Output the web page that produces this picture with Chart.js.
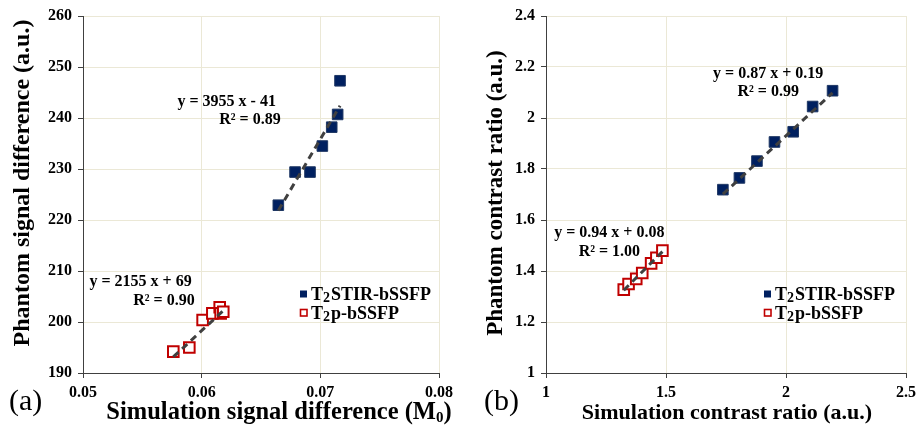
<!DOCTYPE html>
<html><head><meta charset="utf-8">
<script src="https://cdn.jsdelivr.net/npm/chart.js@4/dist/chart.umd.min.js"></script>
<style>
html,body{margin:0;padding:0;background:#fff;}
#wrap{position:relative;width:921px;height:430px;overflow:hidden;background:#fff;}
.c{position:absolute;top:0;}
.lab{position:absolute;font-family:'Liberation Serif',serif;font-size:30px;color:#000;line-height:30px;}
</style></head><body>
<div id="wrap">
<div class="c" style="left:0;"><canvas id="ca" width="460" height="430"></canvas></div>
<div class="c" style="left:460px;"><canvas id="cb" width="461" height="430"></canvas></div>
<div class="lab" style="left:9px;top:385px">(a)</div>
<div class="lab" style="left:484px;top:385px">(b)</div>
</div>
<script>
// ---- data ----
const seriesNames = ['STIR-bSSFP', 'p-bSSFP'];

// panel (a): signal difference
const aStirX = [0.06646, 0.06787, 0.06913, 0.07017, 0.07096, 0.07146, 0.07166];
const aStirY = [222.9, 229.4, 229.4, 234.5, 238.2, 240.7, 247.3];
const aT2pX = [0.05761, 0.05896, 0.06008, 0.06090, 0.06152, 0.06160, 0.06182];
const aT2pY = [194.2, 195.0, 200.4, 201.7, 202.9, 201.7, 202.0];
const aStirFit = [3955, -41];
const aT2pFit = [2155, 69];
const aEqText = ['y = 3955 x - 41', 'R² = 0.89', 'y = 2155 x + 69', 'R² = 0.90'];
const aXTicks = [0.05, 0.06, 0.07, 0.08];
const aYTicks = [190, 200, 210, 220, 230, 240, 250, 260];

// panel (b): contrast ratio
const bStirX = [1.737, 1.806, 1.879, 1.952, 2.030, 2.111, 2.194];
const bStirY = [1.719, 1.765, 1.831, 1.906, 1.946, 2.045, 2.107];
const bT2pX = [1.324, 1.344, 1.376, 1.401, 1.438, 1.460, 1.485];
const bT2pY = [1.327, 1.349, 1.369, 1.392, 1.430, 1.452, 1.480];
const bStirFit = [0.87, 0.19];
const bT2pFit = [0.94, 0.08];
const bEqText = ['y = 0.87 x + 0.19', 'R² = 0.99', 'y = 0.94 x + 0.08', 'R² = 1.00'];
const bXTicks = [1, 1.5, 2, 2.5];
const bYTicks = [1, 1.2, 1.4, 1.6, 1.8, 2, 2.2, 2.4];

// ---- styles ----
const NAVY = '#002060', RED = '#C00000', TREND = '#404040';
const GRID = '#EBE8D6', AXIS = '#404040';
const SERIF = "'Liberation Serif', 'Times New Roman', serif";

function pts(xs, ys) { return xs.map((x, i) => ({x, y: ys[i]})); }
function trend(xs, fit) {
  const lo = Math.min(...xs), hi = Math.max(...xs);
  return [{x: lo, y: fit[0] * lo + fit[1]}, {x: hi, y: fit[0] * hi + fit[1]}];
}
function fmt(v) { return String(parseFloat(v.toFixed(3))); }

function drawParts(ctx, parts, cx, cy) {
  // parts: [{t, size, dy}] drawn on one baseline, centred on cx
  let w = 0;
  for (const p of parts) { ctx.font = 'bold ' + p.size + 'px ' + SERIF; p.w = ctx.measureText(p.t).width; w += p.w; }
  let x = cx - w / 2;
  for (const p of parts) {
    ctx.font = 'bold ' + p.size + 'px ' + SERIF;
    ctx.fillText(p.t, x, cy + (p.dy || 0));
    x += p.w;
  }
}

const annot = {
  id: 'annot',
  afterDraw(chart, args, opts) {
    const ctx = chart.ctx, xs = chart.scales.x, ys = chart.scales.y, ca = chart.chartArea;
    ctx.save();
    ctx.fillStyle = '#000';
    ctx.font = 'bold 16px ' + SERIF;
    ctx.textBaseline = 'middle';
    for (const it of opts.eqs) {
      ctx.textAlign = it.align;
      ctx.fillText(it.text, xs.getPixelForValue(it.x), ys.getPixelForValue(it.y));
    }
    // legend inside plot area
    const lx = ca.right - opts.legendDx;
    const rows = [
      {y: ca.bottom - 79, filled: true, color: NAVY, name: seriesNames[0]},
      {y: ca.bottom - 60.5, filled: false, color: RED, name: seriesNames[1]}
    ];
    ctx.textAlign = 'left';
    ctx.textBaseline = 'alphabetic';
    for (const r of rows) {
      if (r.filled) {
        ctx.fillStyle = r.color;
        ctx.fillRect(lx, r.y - 3.5, 7, 7);
      } else {
        ctx.strokeStyle = r.color;
        ctx.lineWidth = 1.6;
        ctx.strokeRect(lx + 0.5, r.y - 3, 6.5, 6.5);
      }
      ctx.fillStyle = '#000';
      let tx = lx + 11;
      const base = r.y + 6;
      ctx.font = 'bold 18px ' + SERIF;
      ctx.fillText('T', tx, base); tx += ctx.measureText('T').width;
      ctx.font = 'bold 14px ' + SERIF;
      ctx.fillText('2', tx, base + 2); tx += ctx.measureText('2').width + 1;
      ctx.font = 'bold 18px ' + SERIF;
      ctx.fillText(r.name, tx, base);
    }
    // axis titles
    ctx.fillStyle = '#000';
    ctx.textAlign = 'left';
    ctx.textBaseline = 'middle';
    const xt = opts.xTitle;
    drawParts(ctx, xt.parts, xt.cx, xt.cy);
    const yt = opts.yTitle;
    ctx.translate(yt.cx, yt.cy);
    ctx.rotate(-Math.PI / 2);
    drawParts(ctx, yt.parts, 0, 0);
    ctx.restore();
  }
};

function makeChart(id, cfg) {
  const scaleCommon = (min, max, ticksArr) => ({
    type: 'linear', min, max,
    afterBuildTicks: s => { s.ticks = ticksArr.map(v => ({value: v})); },
    grid: {color: GRID, lineWidth: 1, tickColor: AXIS, tickLength: 5, drawTicks: true},
    border: {color: AXIS, width: 1},
    ticks: {color: '#000', font: {family: SERIF, size: 16, weight: 'bold'}, padding: 5, callback: v => fmt(v)}
  });
  const x = scaleCommon(cfg.xMin, cfg.xMax, cfg.xTicks);
  x.afterFit = s => { s.height = 57; };
  x.ticks.maxRotation = 0;
  x.ticks.callback = cfg.xFmt;
  const y = scaleCommon(cfg.yMin, cfg.yMax, cfg.yTicks);
  y.afterFit = s => { s.width = cfg.yWidth; };
  y.ticks.padding = 6;

  return new Chart(document.getElementById(id), {
    type: 'scatter',
    data: {
      datasets: [
        {data: trend(cfg.stirX, cfg.stirFit), showLine: true, borderColor: TREND, borderWidth: 3, borderDash: [7, 5], pointRadius: 0, order: 0},
        {data: trend(cfg.t2pX, cfg.t2pFit), showLine: true, borderColor: TREND, borderWidth: 3, borderDash: [7, 5], pointRadius: 0, order: 0},
        {data: pts(cfg.stirX, cfg.stirY), pointStyle: 'rect', pointRadius: 7.5, backgroundColor: NAVY, borderColor: '#1F3864', borderWidth: 1, order: 1},
        {data: pts(cfg.t2pX, cfg.t2pY), pointStyle: 'rect', pointRadius: 7.5, backgroundColor: '#FFFFFF', borderColor: RED, borderWidth: 2, order: 1}
      ]
    },
    options: {
      responsive: false, animation: false,
      layout: {padding: cfg.pad},
      scales: {x, y},
      plugins: {legend: {display: false}, tooltip: {enabled: false},
        annot: {eqs: cfg.eqs, legendDx: cfg.legendDx, xTitle: cfg.xTitle, yTitle: cfg.yTitle}}
    },
    plugins: [annot]
  });
}

makeChart('ca', {
  stirX: aStirX, stirY: aStirY, t2pX: aT2pX, t2pY: aT2pY, stirFit: aStirFit, t2pFit: aT2pFit,
  xMin: 0.05, xMax: 0.08, yMin: 190, yMax: 260, xTicks: aXTicks, yTicks: aYTicks,
  xFmt: v => v.toFixed(2),
  xTitle: {cx: 279, cy: 413, parts: [{t: 'Simulation signal difference (M', size: 24.5}, {t: '0', size: 15, dy: 5}, {t: ')', size: 24.5}]},
  yTitle: {cx: 23, cy: 183, parts: [{t: 'Phantom signal difference (a.u.)', size: 24}]},
  yWidth: 83, pad: {left: 0, right: 21, top: 16, bottom: 0}, legendDx: 139,
  eqs: [
    {text: aEqText[0], x: 0.06626, y: 243.2, align: 'right'},
    {text: aEqText[1], x: 0.06666, y: 239.6, align: 'right'},
    {text: aEqText[2], x: 0.05916, y: 207.9, align: 'right'},
    {text: aEqText[3], x: 0.05941, y: 204.2, align: 'right'}
  ]
});

makeChart('cb', {
  stirX: bStirX, stirY: bStirY, t2pX: bT2pX, t2pY: bT2pY, stirFit: bStirFit, t2pFit: bT2pFit,
  xMin: 1, xMax: 2.5, yMin: 1, yMax: 2.4, xTicks: bXTicks, yTicks: bYTicks,
  xFmt: v => fmt(v),
  xTitle: {cx: 267, cy: 413, parts: [{t: 'Simulation contrast ratio (a.u.)', size: 22}]},
  yTitle: {cx: 36, cy: 193, parts: [{t: 'Phantom contrast ratio (a.u.)', size: 23}]},
  yWidth: 86, pad: {left: 0, right: 12, top: 16, bottom: 0}, legendDx: 142,
  eqs: [
    {text: bEqText[0], x: 1.926, y: 2.174, align: 'center'},
    {text: bEqText[1], x: 1.926, y: 2.102, align: 'center'},
    {text: bEqText[2], x: 1.264, y: 1.549, align: 'center'},
    {text: bEqText[3], x: 1.264, y: 1.477, align: 'center'}
  ]
});
</script>
</body></html>
